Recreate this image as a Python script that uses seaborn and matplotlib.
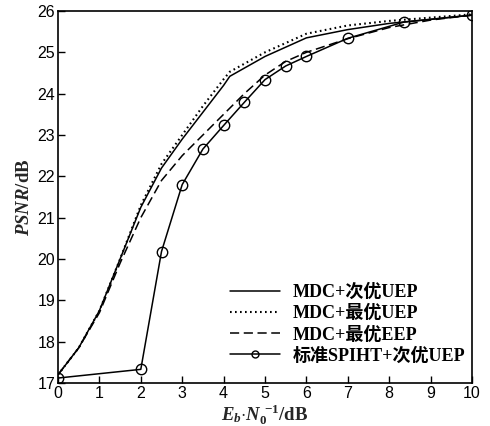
import matplotlib
matplotlib.use("Agg")
import matplotlib.pyplot as plt
import seaborn as sns
import pandas as pd

# ---- data ----
x_sub = [0, 0.5, 1, 1.5, 2, 2.5, 3, 3.5, 4, 4.15, 5, 6, 7, 8, 9, 10]
y_sub = [17.2, 17.85, 18.75, 20.0, 21.25, 22.2, 22.9, 23.55, 24.2, 24.42, 24.9, 25.35, 25.55, 25.7, 25.8, 25.9]

x_opt = [0, 0.5, 1, 1.5, 2, 2.5, 3, 3.5, 4, 4.15, 5, 6, 7, 8, 9, 10]
y_opt = [17.2, 17.85, 18.75, 20.0, 21.3, 22.3, 23.0, 23.7, 24.35, 24.53, 25.0, 25.45, 25.65, 25.76, 25.84, 25.92]

x_eep = [0, 0.5, 1, 1.5, 2, 2.5, 3, 3.5, 4, 4.5, 5, 5.5, 6, 7, 8, 9, 10]
y_eep = [17.2, 17.85, 18.7, 19.9, 21.0, 21.9, 22.5, 23.0, 23.5, 24.0, 24.45, 24.78, 25.0, 25.33, 25.6, 25.78, 25.9]

x_spiht = [0, 2, 2.5, 3, 3.5, 4, 4.5, 5, 5.5, 6, 7, 8.35, 10]
y_spiht = [17.12, 17.33, 20.18, 21.8, 22.66, 23.23, 23.79, 24.34, 24.67, 24.9, 25.34, 25.73, 25.9]

labels = ["MDC+次优UEP", "MDC+最优UEP", "MDC+最优EEP", "标准SPIHT+次优UEP"]
x_ticks = list(range(0, 11))
y_ticks = list(range(17, 27))

sns.set_style("white")
plt.rcParams["font.family"] = ["Liberation Sans", "Noto Sans CJK SC"]
plt.rcParams["mathtext.fontset"] = "custom"
plt.rcParams["mathtext.rm"] = "Liberation Serif:bold"
plt.rcParams["mathtext.it"] = "Liberation Serif:italic:bold"
plt.rcParams["mathtext.bf"] = "Liberation Serif:bold"

fig = plt.figure(figsize=(4.90, 4.26), dpi=100)
ax = fig.add_axes([58/490, 1-383/426, (472-58)/490, (383-11)/426])

lw = 1.1
sns.lineplot(x=x_sub, y=y_sub, ax=ax, color="black", lw=lw, label=labels[0])
sns.lineplot(x=x_opt, y=y_opt, ax=ax, color="black", lw=1.5, linestyle=(0, (0.8, 1.6)), label=labels[1])
sns.lineplot(x=x_eep, y=y_eep, ax=ax, color="black", lw=lw, linestyle=(0, (6, 3)), label=labels[2])
sns.lineplot(x=x_spiht, y=y_spiht, ax=ax, color="black", lw=lw, marker="o", markersize=7.5,
             markerfacecolor="none", markeredgecolor="black", markeredgewidth=1.0, label=labels[3])

ax.set_xlim(0, 10)
ax.set_ylim(17, 26)
ax.set_xticks(x_ticks)
ax.set_yticks(y_ticks)
ax.tick_params(direction="in", length=5, width=1, labelsize=11.5, colors="black",
               bottom=True, left=True, top=False, right=False, pad=2)
for s in ax.spines.values():
    s.set_color("black")
    s.set_linewidth(1.2)

ax.set_xlabel(r"$E_b{\cdot}N_0^{\ \mathrm{-1}}\mathrm{/dB}$", fontsize=13.5, labelpad=1)
ax.set_ylabel(r"$PSNR\mathrm{/dB}$", fontsize=13.5, labelpad=3)

leg = ax.legend(loc="lower right", bbox_to_anchor=(1.015, 0.015), frameon=False,
                prop={"family": ["Liberation Serif", "Noto Sans CJK SC"], "size": 13, "weight": "bold"},
                handlelength=2.8, handletextpad=0.7, labelspacing=0.22, borderpad=0.2)
for t in leg.get_texts():
    t.set_color("black")
leg.legend_handles[3].set_markersize(5)

fig.savefig("out.png", dpi=100)
